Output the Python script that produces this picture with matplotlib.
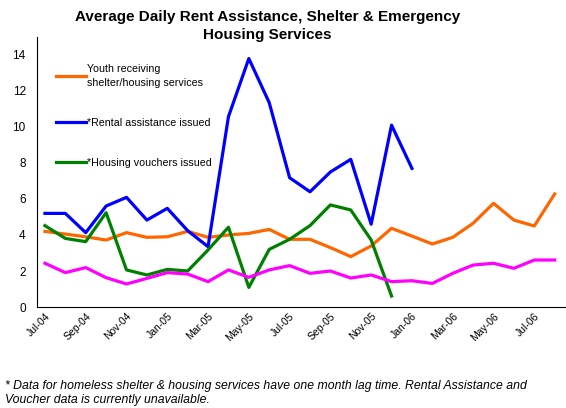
import matplotlib.pyplot as plt

plt.rcParams['font.family'] = ['Liberation Sans', 'DejaVu Sans']

# monthly data, Jul-04 .. Aug-06
months = ["Jul-04", "Aug-04", "Sep-04", "Oct-04", "Nov-04", "Dec-04",
          "Jan-05", "Feb-05", "Mar-05", "Apr-05", "May-05", "Jun-05",
          "Jul-05", "Aug-05", "Sep-05", "Oct-05", "Nov-05", "Dec-05",
          "Jan-06", "Feb-06", "Mar-06", "Apr-06", "May-06", "Jun-06",
          "Jul-06", "Aug-06"]

youth = [4.2, 4.05, 3.9, 3.72, 4.13, 3.87, 3.9, 4.2, 3.87, 4.0, 4.09, 4.31,
         3.76, 3.76, 3.3, 2.8, 3.39, 4.37, 3.94, 3.5, 3.87, 4.65, 5.76, 4.83,
         4.5, 6.28]
rental = [5.2, 5.2, 4.13, 5.61, 6.09, 4.83, 5.48, 4.24, 3.35, 10.57, 13.8, 11.35,
          7.18, 6.4, 7.5, 8.2, 4.6, 10.1, 7.7]
vouchers = [4.52, 3.81, 3.63, 5.24, 2.06, 1.78, 2.09, 2.0, 3.17, 4.43, 1.09, 3.2,
            3.76, 4.52, 5.67, 5.39, 3.72, 0.61]
other = [2.43, 1.91, 2.19, 1.63, 1.28, 1.59, 1.91, 1.83, 1.41, 2.06, 1.65, 2.06,
         2.3, 1.87, 2.0, 1.61, 1.78, 1.41, 1.46, 1.31, 1.87, 2.33, 2.43, 2.15,
         2.61, 2.61]

fig = plt.figure(figsize=(5.66, 4.08), dpi=100)
ax = fig.add_axes([0.065, 0.2475, 0.933, 0.662])

lw = 2.3
ax.plot(range(len(youth)), youth, color="#FF6600", lw=lw,
        label="Youth receiving\nshelter/housing services")
ax.plot(range(len(rental)), rental, color="#0000FF", lw=lw,
        label="*Rental assistance issued")
ax.plot(range(len(vouchers)), vouchers, color="#008000", lw=lw,
        label="*Housing vouchers issued")
ax.plot(range(len(other)), other, color="#FF00FF", lw=lw)

ax.set_xlim(-0.4, 25.5)
ax.set_ylim(0, 15)
ax.set_yticks(range(0, 15, 2))
ax.set_xticks(range(0, len(months), 2))
ax.set_xticklabels(months[::2], rotation=45, ha="right", rotation_mode="anchor",
                   fontsize=7.5)
ax.tick_params(axis="y", labelsize=8.5, length=0, pad=8)
ax.tick_params(axis="x", length=0, pad=3)
for s in ["top", "right"]:
    ax.spines[s].set_visible(False)

leg = ax.legend(loc="upper left", bbox_to_anchor=(0.018, 0.935), frameon=False,
                fontsize=7.7, handlelength=2.8, handletextpad=0.15, labelspacing=2.8)
for t in leg.get_texts():
    t.set_linespacing(1.5)

fig.text(0.472, 0.975, "Average Daily Rent Assistance, Shelter & Emergency\nHousing Services",
         ha="center", va="top", fontsize=11, fontweight="bold", linespacing=1.3)

fig.text(0.008, 0.037, "* Data for homeless shelter & housing services have one month lag time. "
         "Rental Assistance and\nVoucher data is currently unavailable.",
         ha="left", va="center", fontsize=8.8, style="italic", linespacing=1.3)

plt.savefig("out.png", dpi=100)
